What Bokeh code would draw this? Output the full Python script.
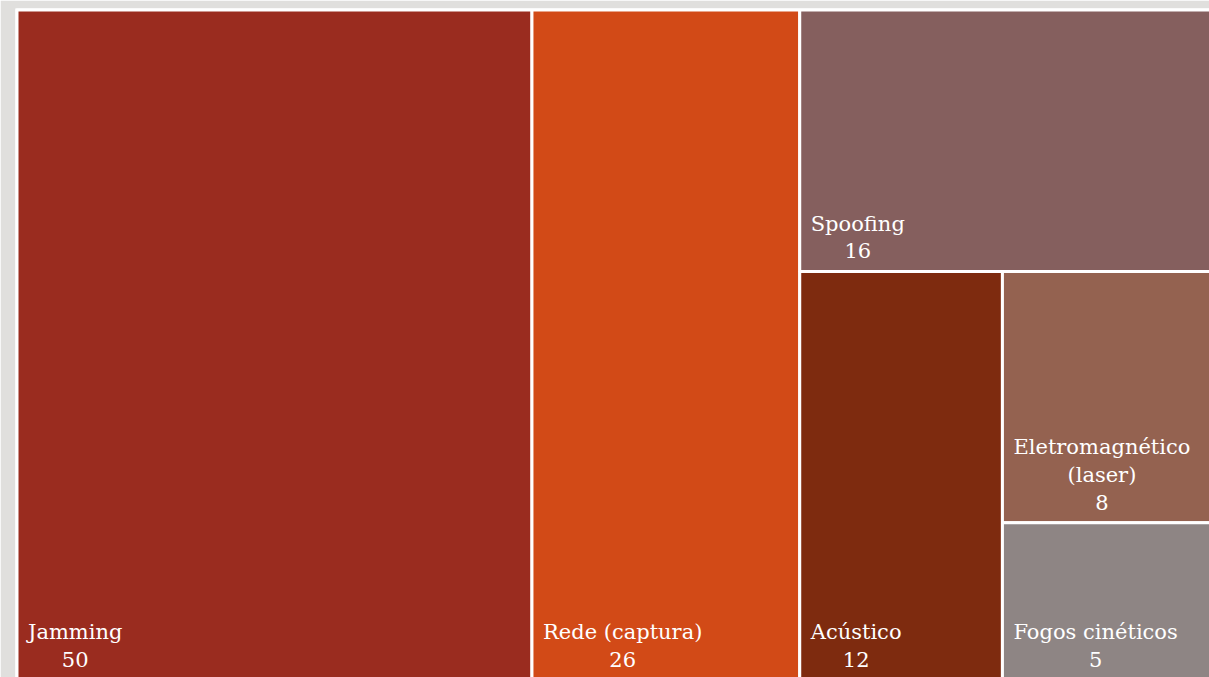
from bokeh.plotting import figure
from bokeh.models import Range1d, ColumnDataSource
from bokeh.core.properties import value
from bokeh.embed import file_html
from bokeh.resources import INLINE

# ---- data ----
names = ["Jamming", "Rede (captura)", "Spoofing", "Acústico",
         "Eletromagnético\n(laser)", "Fogos cinéticos"]
counts = [50, 26, 16, 12, 8, 5]
colors = ["#9A2C1F", "#D24A17", "#855F5E", "#7E2B0F", "#946250", "#8E8584"]

BG = "#E0DFDD"

# ---- treemap layout (slice along longer side, one item at a time) ----
def slice_layout(vals, x0, y0, x1, y1):
    rects = []
    rem = float(sum(vals))
    for i, v in enumerate(vals):
        w, h = x1 - x0, y1 - y0
        if i == len(vals) - 1:
            rects.append((x0, y0, x1, y1))
            break
        f = v / rem
        if w >= h:
            nx = x0 + w * f
            rects.append((x0, y0, nx, y1))
            x0 = nx
        else:
            ny = y0 + h * f
            rects.append((x0, y0, x1, ny))
            y0 = ny
        rem -= v
    return rects

FW, FH = 1194, 669
rects = slice_layout(counts, 1.5, 1.5, 1206.5, 671.5)

src = ColumnDataSource(dict(
    left=[r[0] for r in rects], right=[r[2] for r in rects],
    top=[r[1] for r in rects], bottom=[r[3] for r in rects],
    color=colors,
    label=[f"{n}\n{c}" for n, c in zip(names, counts)],
))

p = figure(width=1209, height=677, output_backend="svg", toolbar_location=None,
           x_axis_location=None, y_axis_location=None,
           x_range=Range1d(0, FW), y_range=Range1d(FH, 0),
           min_border_left=15, min_border_right=0, min_border_top=8, min_border_bottom=0)
p.grid.visible = False
p.outline_line_color = None
p.background_fill_color = "white"
p.border_fill_color = BG

p.quad(left="left", right="right", top="top", bottom="bottom", source=src,
       fill_color="color", line_color="white", line_width=3)

p.text(x="left", y="bottom", text="label", source=src,
       anchor="bottom_left", text_align="center",
       x_offset=11, y_offset=-8,
       text_color="white", text_font=value("DejaVu Serif"),
       text_font_size="21px", text_line_height=1.16)

html = file_html(p, INLINE)
open("out.html", "w").write(html)
